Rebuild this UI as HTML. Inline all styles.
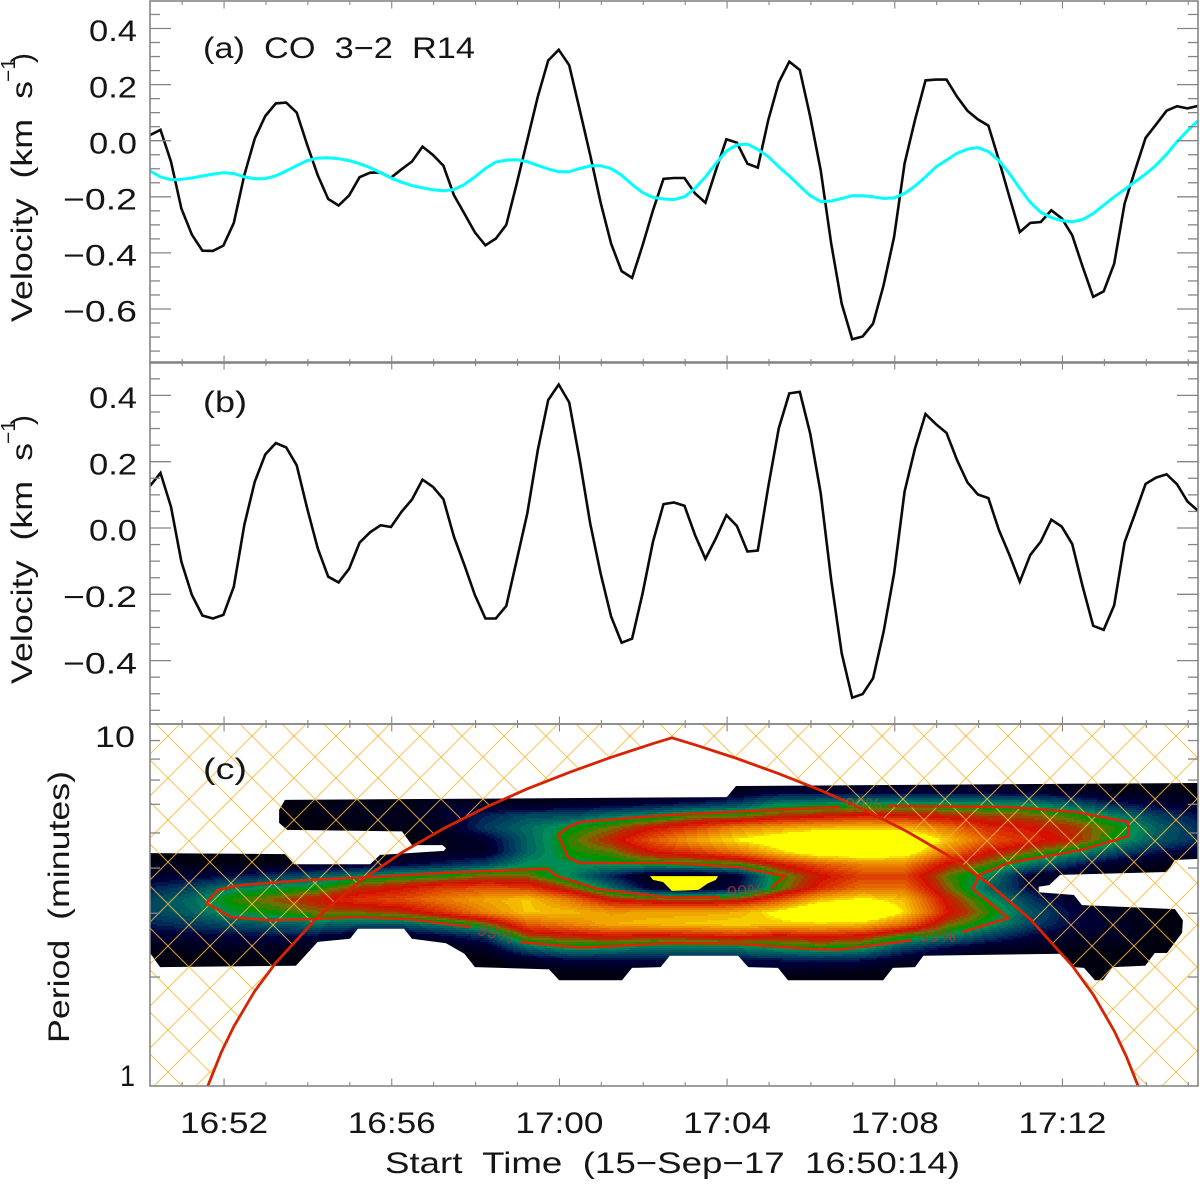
<!DOCTYPE html>
<html lang="en">
<head>
<meta charset="utf-8">
<title>CO 3-2 R14 velocity and wavelet</title>
<style>
html,body{margin:0;padding:0;background:#fff;}
svg{display:block;}
text{font-family:"Liberation Sans",sans-serif;fill:#151515;font-size:30px;white-space:pre;}
</style>
</head>
<body>
<svg id="chart" xmlns="http://www.w3.org/2000/svg" width="1200" height="1185" viewBox="0 0 1200 1185">
  <rect x="0" y="0" width="1200" height="1185" fill="#fff"/>
  <defs>
    <clipPath id="clipA"><rect x="150" y="1" width="1048" height="362"/></clipPath>
    <clipPath id="clipB"><rect x="150" y="362" width="1048" height="362"/></clipPath>
    <clipPath id="clipC"><rect x="150" y="724" width="1048" height="362"/></clipPath>
    <clipPath id="clipSupport"><polygon id="supportPoly" points="0,0"/></clipPath>
    <clipPath id="clipCone"><polygon id="conePoly" points="0,0"/></clipPath>
  </defs>
  <g id="heat" clip-path="url(#clipSupport)" shape-rendering="crispEdges"></g>
  <polygon id="holePoly" fill="#ffff00"/>
  <g id="hatch" clip-path="url(#clipCone)"></g>
  <g id="contours" clip-path="url(#clipC)"></g>
  <polyline id="coiLine" fill="none" stroke="#d92300" stroke-width="2.8" clip-path="url(#clipC)"/>
  <g>
    <text x="477" y="939" transform="rotate(14 495 933)" textLength="37" lengthAdjust="spacingAndGlyphs" style="font-size:20px;fill:#b03a26;fill-opacity:.75">99%</text>
    <text x="727" y="899" transform="rotate(-4 745 893)" textLength="37" lengthAdjust="spacingAndGlyphs" style="font-size:20px;fill:#b03a26;fill-opacity:.75">99%</text>
    <text x="845" y="812" textLength="37" lengthAdjust="spacingAndGlyphs" style="font-size:20px;fill:#8a6a20;fill-opacity:.7">99%</text>
    <text x="919" y="942" textLength="37" lengthAdjust="spacingAndGlyphs" style="font-size:20px;fill:#b03a26;fill-opacity:.75">99%</text>
  </g>
  <polyline id="lineA" fill="none" stroke="#0a0a0a" stroke-width="2.6" stroke-linejoin="miter" clip-path="url(#clipA)"/>
  <polyline id="lineCyan" fill="none" stroke="#00ffff" stroke-width="3" clip-path="url(#clipA)"/>
  <polyline id="lineB" fill="none" stroke="#0a0a0a" stroke-width="2.6" clip-path="url(#clipB)"/>
  <g id="axes"></g>
  <text x="203" y="58" textLength="272" lengthAdjust="spacingAndGlyphs">(a)  CO  3−2  R14</text>
  <text x="203" y="412" textLength="44" lengthAdjust="spacingAndGlyphs">(b)</text>
  <text x="203" y="779" textLength="44" lengthAdjust="spacingAndGlyphs">(c)</text>
  <g>
    <text transform="translate(32 322) rotate(-90)" textLength="241" lengthAdjust="spacingAndGlyphs">Velocity  (km  s</text>
    <text transform="translate(15 82) rotate(-90)" textLength="24" lengthAdjust="spacingAndGlyphs" style="font-size:20px">−1</text>
    <text transform="translate(32 63) rotate(-90)">)</text>
  </g>
  <g>
    <text transform="translate(32 684) rotate(-90)" textLength="241" lengthAdjust="spacingAndGlyphs">Velocity  (km  s</text>
    <text transform="translate(15 444) rotate(-90)" textLength="24" lengthAdjust="spacingAndGlyphs" style="font-size:20px">−1</text>
    <text transform="translate(32 425) rotate(-90)">)</text>
  </g>
  <text transform="translate(69 1043) rotate(-90)" textLength="272" lengthAdjust="spacingAndGlyphs">Period  (minutes)</text>
  <text x="385" y="1173" textLength="575" lengthAdjust="spacingAndGlyphs">Start  Time  (15−Sep−17  16:50:14)</text>
</svg>
<script>
// ---- series data (15 s cadence, km/s) ----
const velocityBlackA = [
 .020,.039,-.075,-.242,-.335,-.392,-.393,-.374,-.293,-.123,
 .008,.088,.133,.136,.100,-.015,-.123,-.208,-.231,-.195,
 -.130,-.114,-.113,-.132,-.102,-.074,-.021,-.051,-.089,-.194,
 -.260,-.327,-.373,-.349,-.300,-.152,.002,.157,.286,.324,
 .269,.110,-.051,-.220,-.367,-.465,-.489,-.373,-.248,-.136,
 -.133,-.133,-.188,-.221,-.105,.005,-.007,-.082,-.096,.074,
 .208,.282,.252,.086,-.105,-.367,-.581,-.708,-.698,-.652,
 -.515,-.343,-.081,.074,.215,.218,.218,.157,.107,.076,
 .054,-.069,-.200,-.326,-.293,-.290,-.248,-.277,-.337,-.450,
 -.557,-.537,-.438,-.224,-.105,.010,.058,.107,.123,.115,.124];
const velocityCyanA = [
 -.108,-.129,-.139,-.138,-.133,-.126,-.119,-.114,-.117,-.129,
 -.136,-.135,-.125,-.108,-.089,-.071,-.062,-.061,-.064,-.071,
 -.082,-.096,-.114,-.133,-.148,-.160,-.168,-.175,-.179,-.174,
 -.156,-.129,-.099,-.076,-.069,-.068,-.075,-.088,-.101,-.111,
 -.111,-.099,-.090,-.089,-.099,-.123,-.156,-.185,-.202,-.208,
 -.210,-.200,-.170,-.129,-.081,-.037,-.015,-.012,-.031,-.057,
 -.093,-.126,-.162,-.196,-.217,-.215,-.206,-.196,-.196,-.200,
 -.206,-.204,-.188,-.162,-.129,-.093,-.069,-.045,-.030,-.025,
 -.039,-.071,-.117,-.170,-.220,-.255,-.274,-.285,-.289,-.281,
 -.260,-.230,-.200,-.174,-.146,-.119,-.087,-.048,-.004,.036,.071];
const velocityBlackB = [
 .127,.166,.064,-.102,-.202,-.264,-.273,-.262,-.177,.009,
 .140,.222,.256,.243,.189,.059,-.061,-.147,-.164,-.123,
 -.044,-.013,.008,.003,.049,.086,.146,.124,.087,-.026,
 -.112,-.202,-.273,-.273,-.235,-.096,.044,.235,.386,.433,
 .379,.205,.014,-.137,-.267,-.346,-.334,-.197,-.041,.072,
 .077,.067,-.021,-.093,-.031,.039,.006,-.071,-.068,.125,
 .301,.406,.411,.285,.105,-.157,-.378,-.512,-.501,-.453,
 -.313,-.137,.110,.240,.344,.313,.287,.205,.138,.101,
 .090,-.006,-.081,-.162,-.081,-.041,.025,.004,-.048,-.177,
 -.295,-.307,-.233,-.043,.044,.133,.152,.162,.132,.080,.052];
const sampleStepMinutes = 0.25;

// ---- tick labels ----
const yTicksA = [0.4,0.2,0.0,-0.2,-0.4,-0.6];
const yTicksB = [0.4,0.2,0.0,-0.2,-0.4];
const yTickLabelsA = ['0.4','0.2','0.0','−0.2','−0.4','−0.6'];
const yTickLabelsB = ['0.4','0.2','0.0','−0.2','−0.4'];
const periodMinorTicks = [2,3,4,5,6,7,8,9];
const periodLabels = ['10','1'];
const timeLabels = ['16:52','16:56','17:00','17:04','17:08','17:12'];
const timeLabelMinutes = [52,56,60,64,68,72];

// ---- wavelet power (percent of colour scale, saturating above 100): one row per period, one column per minute ----
const powerPeriods = [7.00,6.49,6.01,5.57,5.16,4.78,4.43,4.10,3.80,3.52,3.27,3.02,2.80,2.60,2.41,2.23,2.06,1.91];
const powerByMinute = [
 [0,0,0,0,0,0,0,4,10,18,24,24,18,10,4,1,0,0],
 [0,0,0,0,0,0,0,3,12,24,32,30,22,12,5,1,0,0],
 [0,0,0,0,0,0,0,3,16,36,46,40,26,14,6,1,0,0],
 [0,0,2,3,2,0,0,3,22,40,52,44,30,15,6,2,0,0],
 [0,0,3,3,2,0,0,5,28,44,60,50,32,14,4,0,0,0],
 [0,0,3,4,2,0,1,8,36,56,68,52,28,8,0,0,0,0],
 [0,0,3,5,3,1,2,12,42,62,72,56,28,8,1,0,0,0],
 [0,0,8,10,6,4,6,18,44,70,80,68,36,14,3,0,0,0],
 [0,0,8,18,22,10,8,24,52,72,88,82,48,22,8,1,0,0],
 [0,0,6,26,32,30,30,38,50,70,94,94,74,54,30,8,1,0],
 [0,0,8,26,42,46,44,38,36,54,80,92,82,58,40,14,2,0],
 [0,0,10,34,50,58,48,40,18,32,60,86,90,62,38,14,3,0],
 [0,0,14,38,62,74,62,42,2,10,54,88,92,60,32,14,4,0],
 [0,0,18,48,70,88,68,44,2,6,52,88,94,62,34,16,4,0],
 [0,6,24,48,82,98,78,46,10,14,56,90,96,66,34,16,4,0],
 [0,12,36,56,88,106,94,62,44,46,72,100,94,60,40,16,4,0],
 [0,12,38,60,92,118,108,74,60,66,92,118,94,64,44,18,4,0],
 [0,12,40,64,94,118,110,82,70,78,100,118,92,60,40,16,3,0],
 [0,12,40,62,92,116,106,82,70,78,92,96,78,46,24,8,1,0],
 [0,12,40,58,80,94,80,60,48,52,60,64,52,38,14,5,0,0],
 [0,12,38,54,66,74,62,48,36,30,40,46,40,24,8,3,0,0],
 [0,10,36,52,62,66,50,34,10,14,22,28,24,14,6,2,0,0],
 [0,8,28,46,56,58,40,20,5,0,8,14,14,8,3,1,0,0],
 [0,4,18,36,46,42,26,8,1,0,0,6,8,8,3,1,0,0],
 [0,3,12,24,30,28,16,4,0,0,0,2,3,2,1,0,0,0],
 [0,2,8,16,20,20,10,1,0,0,0,0,0,0,0,0,0,0]];

// outline of the plotted power region: minutes after start, period in minutes
const supportMinutes = [0,3.22,3.44,5.25,5.49,7.01,7.06,6.98,6.25,6.01,3.27,3.08,3.08,3.22,13.76,13.98,25,25,24.45,24.26,21.71,21.45,21.20,21.20,22.04,22.23,24.45,24.64,24.62,24.26,23.97,23.74,22.97,22.73,22.54,22.28,22.04,21.76,18.45,18.25,17.72,17.49,15.22,14.98,14.27,14.03,12.40,12.18,11.50,11.26,9.76,9.52,7.75,7.50,7.06,6.25,6.06,4.96,4.77,4.00,3.48,0.24,0];
const supportPeriods = [4.40,4.37,4.10,4.10,4.35,4.46,4.54,4.63,4.63,5.05,5.10,5.33,5.79,6.17,6.28,6.74,6.87,4.24,4.21,3.90,3.83,3.59,3.55,3.43,3.37,3.16,3.08,2.87,2.65,2.33,2.33,2.15,2.13,1.96,1.96,2.12,2.13,2.32,2.29,2.13,2.12,1.96,1.96,2.12,2.13,2.29,2.29,2.13,2.12,1.96,1.96,2.10,2.13,2.32,2.48,2.55,2.72,2.72,2.55,2.50,2.15,2.13,2.33];

const patchMinutes = [11.93,13.55,13.50,13.31,13.08,12.45,12.24,12.00];
const patchPeriods = [3.80,3.80,3.71,3.63,3.48,3.46,3.66,3.71];

// 99% significance contour, broken where its labels sit
const contourMinutes = [
 [7.66,6.20,4.91,3.79,2.81,1.93,1.34,1.62,2.17,3.79,5.42,7.01,9.47,9.71,10.68,12.40,13.60],
 [14.81,15.15,14.03,12.40,10.25,9.97,9.74,9.97,10.26,12.40,14.81,16.44],
 [17.61,20.47,22.09,23.33,23.35,22.23,20.47,19.78,19.63,20.47,19.37],
 [18.18,16.44,15.79,14.03,12.40,10.25,8.83]];
const contourPeriods = [
 [2.75,2.89,2.93,2.89,2.87,2.93,3.20,3.48,3.59,3.71,3.78,3.88,3.98,3.80,3.50,3.31,3.33],
 [3.52,3.80,4.03,4.13,4.13,4.29,4.94,5.19,5.36,5.61,5.79,5.90],
 [5.94,5.90,5.71,5.36,4.90,4.49,4.13,3.83,3.50,2.91,2.66],
 [2.53,2.38,2.39,2.47,2.48,2.41,2.50]];

// cone of influence
const coiMinutes = [1.38,1.7,2,2.5,3,4,5,6,7,8,9,10,11,12,12.45,13,14,15,16,17,18,19,20,21,22,22.5,23,23.3,23.57];
const coiPeriods = [1,1.24,1.46,1.83,2.19,2.93,3.67,4.41,5.14,5.88,6.62,7.35,8.09,8.83,9.16,8.76,8.03,7.29,6.56,5.83,5.09,4.36,3.63,2.89,2.15,1.79,1.42,1.2,1];

// colour scale
const paletteLevels = [0,6,12,18,24,30,36,42,48,54,60,68,75,82,88,94,100];
const paletteColors = ['#00000f','#000024','#00003c','#002a58','#004a60','#006a60','#008c58','#009200','#707000','#b03000','#d41000','#dc3c00','#e46800','#ec8c00','#f0ac00','#f6d400','#ffff00'];

// ---- axis functions ----
const xT = t => 150 + 41.92 * t;
const yA = v => 140.7 - 280.5 * v;
const yB = v => 528 - 331.5 * v;
const yC = p => 1086 - 362 * Math.log10(p);
const xMinute = m => xT(m - 50 - 14 / 60);

const NS = 'http://www.w3.org/2000/svg';
function mk(tag, attrs, parent) {
  const n = document.createElementNS(NS, tag);
  for (const k in attrs) n.setAttribute(k, attrs[k]);
  parent.appendChild(n);
  return n;
}
const $ = id => document.getElementById(id);

// ---- time series ----
const linePts = (arr, y) => arr.map((v, i) => xT(i * sampleStepMinutes).toFixed(1) + ',' + y(v).toFixed(1)).join(' ');
$('lineA').setAttribute('points', linePts(velocityBlackA, yA));
$('lineCyan').setAttribute('points', linePts(velocityCyanA, yA));
$('lineB').setAttribute('points', linePts(velocityBlackB, yB));

// ---- power map ----
function hex(c) { return [1, 3, 5].map(i => parseInt(c.substr(i, 2), 16)); }
function bandColor(v) {
  const b = Math.min(100, Math.floor(v / 3) * 3 + (v >= 97 ? 4 : 0));
  let i = 0;
  while (i < paletteLevels.length - 2 && b > paletteLevels[i + 1]) i++;
  const f = Math.max(0, Math.min(1, (b - paletteLevels[i]) / (paletteLevels[i + 1] - paletteLevels[i])));
  const a = hex(paletteColors[i]), z = hex(paletteColors[i + 1]);
  return 'rgb(' + a.map((c, k) => Math.round(c + (z[k] - c) * f)).join(',') + ')';
}
const powerLogs = powerPeriods.map(p => Math.log10(p));
function powerAt(t, p) {
  const lp = Math.log10(p);
  const cols = powerByMinute.length - 1;
  const c = Math.max(0, Math.min(cols - 1, Math.floor(t)));
  const ct = Math.max(0, Math.min(1, t - c));
  let r = 0;
  while (r < powerLogs.length - 2 && lp < powerLogs[r + 1]) r++;
  const rt = Math.max(0, Math.min(1, (powerLogs[r] - lp) / (powerLogs[r] - powerLogs[r + 1])));
  const A = powerByMinute[c], B = powerByMinute[c + 1];
  return (A[r] * (1 - ct) + B[r] * ct) * (1 - rt) + (A[r + 1] * (1 - ct) + B[r + 1] * ct) * rt;
}
const heat = $('heat');
for (let y = 782; y < 984; y += 2) {
  const p = Math.pow(10, (1086 - (y + 1)) / 362);
  let start = 150, cur = null;
  for (let x = 150; x <= 1198; x++) {
    const col = x < 1198 ? bandColor(powerAt((x + 0.5 - 150) / 41.92, p)) : null;
    if (col !== cur) {
      if (cur !== null) {
        const cell = mk('rect', { x: start, y: y, width: x - start, height: 2, fill: cur }, heat);
        
        
      }
      start = x; cur = col;
    }
  }
}
$('supportPoly').setAttribute('points', supportMinutes.map((t, i) => xT(t).toFixed(1) + ',' + yC(supportPeriods[i]).toFixed(1)).join(' '));
$('holePoly').setAttribute('points', patchMinutes.map((t, i) => xT(t).toFixed(1) + ',' + yC(patchPeriods[i]).toFixed(1)).join(' '));

// ---- cone of influence ----
const coiPts = coiMinutes.map((t, i) => [xT(t), yC(coiPeriods[i])]);
$('coiLine').setAttribute('points', coiPts.map(q => q[0].toFixed(1) + ',' + q[1].toFixed(1)).join(' '));
const outer = [[150, 1086], [150, 724], [1198, 724], [1198, 1086]].concat(coiPts.slice().reverse());
$('conePoly').setAttribute('points', outer.map(q => q[0].toFixed(1) + ',' + q[1].toFixed(1)).join(' '));

// hatch
const hatch = $('hatch');
for (let k = -30; k <= 40; k++) {
  const c1 = 1156 + 42 * k, c2 = -778 + 42 * k;
  const a = mk('line', { x1: c1 - 700, y1: 700, x2: c1 - 1100, y2: 1100, stroke: '#f5b93c', 'stroke-width': 1, 'stroke-opacity': 0.85 }, hatch);
  
  
  const b = mk('line', { x1: c2 + 700, y1: 700, x2: c2 + 1100, y2: 1100, stroke: '#f5b93c', 'stroke-width': 1, 'stroke-opacity': 0.85 }, hatch);
  
  
}

// contours
const contours = $('contours');
contourMinutes.forEach((ts, s) => {
  const pl = mk('polyline', {
    points: ts.map((t, i) => xT(t).toFixed(1) + ',' + yC(contourPeriods[s][i]).toFixed(1)).join(' '),
    fill: 'none', stroke: '#dc2600', 'stroke-width': 2.6
  }, contours);
  
  
});

// ---- axes ----
const axes = $('axes');
const AXC = '#858585';
function tick(x1, y1, x2, y2, w) {
  const t = mk('line', { x1, y1, x2, y2, stroke: AXC, 'stroke-width': w }, axes);
  
  
}
[[1, 362], [362, 362], [724, 362]].forEach(r => {
  const f = mk('rect', { x: 150, y: r[0], width: 1048, height: r[1], fill: 'none', stroke: AXC, 'stroke-width': 1.6 }, axes);
  
  
});
// x ticks on all panels
for (let m = 51; m <= 75; m++) {
  const x = xMinute(m), major = (m - 52) % 4 === 0, len = major ? 7.5 : 4;
  [[1, 1], [363, -1], [362, 1], [724, -1], [724, 1], [1086, -1]].forEach(s => tick(x, s[0], x, s[0] + s[1] * len, 1.1));
}
// y ticks for velocity panels
for (let j = -15; j <= 9; j++) {
  const v = j * 0.05, major = j % 4 === 0, len = major ? 21 : 10;
  if (v >= -0.76) { const y = yA(v); tick(150, y, 150 + len, y, 1.3); tick(1198, y, 1198 - len, y, 1.3); }
  if (v >= -0.56) { const y = yB(v); tick(150, y, 150 + len, y, 1.3); tick(1198, y, 1198 - len, y, 1.3); }
}
periodMinorTicks.forEach(p => { const y = yC(p); tick(150, y, 160, y, 1.3); tick(1198, y, 1188, y, 1.3); });

function label(str, x, y, w, name) {
  const t = mk('text', { x, y, textLength: w, lengthAdjust: 'spacingAndGlyphs' }, axes);
  t.textContent = str;
  
  
}
const yLabelW = s => (s.length === 3 ? 48 : 74);
yTicksA.forEach((v, i) => { const s = yTickLabelsA[i]; label(s, 137 - yLabelW(s), yA(v) + 12.7, yLabelW(s), 'y-tick-label-a'); });
yTicksB.forEach((v, i) => { const s = yTickLabelsB[i]; label(s, 137 - yLabelW(s), yB(v) + 12.7, yLabelW(s), 'y-tick-label-b'); });
label(periodLabels[0], 95, 747, 40, 'y-tick-label-c');
label(periodLabels[1], 120, 1086, 15, 'y-tick-label-c');
timeLabels.forEach((s, i) => label(s, xMinute(timeLabelMinutes[i]) - 44, 1133, 88, 'x-tick-label'));
</script>
</body>
</html>
